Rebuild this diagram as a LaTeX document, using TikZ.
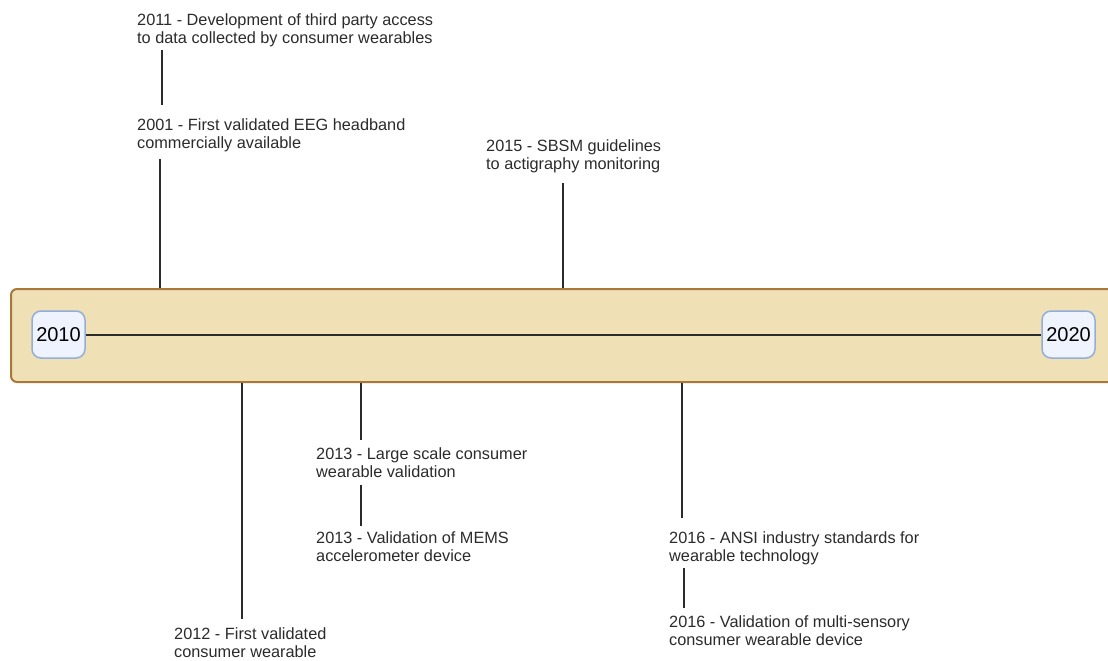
\documentclass[tikz,border=0pt]{standalone}
\usepackage{fontspec}
\setmainfont{Liberation Sans}
\usetikzlibrary{positioning}
\definecolor{bandfill}{HTML}{F0E0B6}
\definecolor{bandedge}{HTML}{A8773A}
\definecolor{yearfill}{HTML}{EEF3FE}
\definecolor{yearedge}{HTML}{93AEDB}
\definecolor{inkgray}{HTML}{2B2B2B}
\tikzset{
  event/.style={anchor=north west, inner sep=0pt, align=left,
    font=\fontsize{16.3}{18.3}\selectfont, text=inkgray},
  stem/.style={draw=inkgray, line width=2pt},
  yearbox/.style={draw=yearedge, fill=yearfill, line width=1.5pt, rounded corners=9pt,
    minimum width=53pt, minimum height=47pt, inner sep=0pt,
    font=\fontsize{20}{22}\selectfont, text=black},
  bandbox/.style={draw=bandedge, fill=bandfill, line width=2pt, rounded corners=6pt,
    anchor=north west, minimum width=1110pt, minimum height=93pt, inner sep=0pt}
}
\begin{document}
\begin{tikzpicture}[x=1pt,y=-1pt]
  \useasboundingbox (0,0) rectangle (1108,661);
  %%%%% band and axis %%%%%
  \node[bandbox] (band) at (10,288) {};
  \node[yearbox] (y2010) at (58.5,334.5) {2010};
  \node[yearbox] (y2020) at (1068.5,334.5) {2020};
  \draw[stem] (y2010) -- (y2020);

  %%%%% events above %%%%%
  \node[event] (ev2011) at (137,13) {2011 - Development of third party access\\to data collected by consumer wearables};
  \node[event] (ev2001) at (137,118) {2001 - First validated EEG headband\\commercially available};
  \node[event] (ev2015) at (486,139) {2015 - SBSM guidelines\\to actigraphy monitoring};

  %%%%% events below %%%%%
  \node[event] (ev2012) at (174,627) {2012 - First validated\\consumer wearable};
  \node[event] (ev2013a) at (316,447) {2013 - Large scale consumer\\wearable validation};
  \node[event] (ev2013b) at (316,531) {2013 - Validation of MEMS\\accelerometer device};
  \node[event] (ev2016a) at (669,531) {2016 - ANSI industry standards for\\wearable technology};
  \node[event] (ev2016b) at (669,615) {2016 - Validation of multi-sensory\\consumer wearable device};

  %%%%% stems %%%%%
  \coordinate (s2001) at (160,0);
  \coordinate (s2011) at (162,0);
  \coordinate (s2015) at (563,0);
  \coordinate (s2012) at (242,0);
  \coordinate (s2013) at (361,0);
  \coordinate (s2016a) at (682,0);
  \coordinate (s2016b) at (684,0);

  \draw[stem] (ev2011.south -| s2011) ++(0,3) -- ([yshift=13pt]ev2001.north -| s2011);
  \draw[stem] (band.north -| s2001) -- ([yshift=-7pt]ev2001.south -| s2001);
  \draw[stem] (band.north -| s2015) -- ([yshift=-10pt]ev2015.south -| s2015);
  \draw[stem] (band.south -| s2012) -- ([yshift=8pt]ev2012.north -| s2012);
  \draw[stem] (band.south -| s2013) -- ([yshift=7pt]ev2013a.north -| s2013);
  \draw[stem] (ev2013a.south -| s2013) ++(0,7) -- ([yshift=5pt]ev2013b.north -| s2013);
  \draw[stem] (band.south -| s2016a) -- ([yshift=13pt]ev2016a.north -| s2016a);
  \draw[stem] (ev2016a.south -| s2016b) ++(0,3) -- ([yshift=7pt]ev2016b.north -| s2016b);
\end{tikzpicture}
\end{document}
